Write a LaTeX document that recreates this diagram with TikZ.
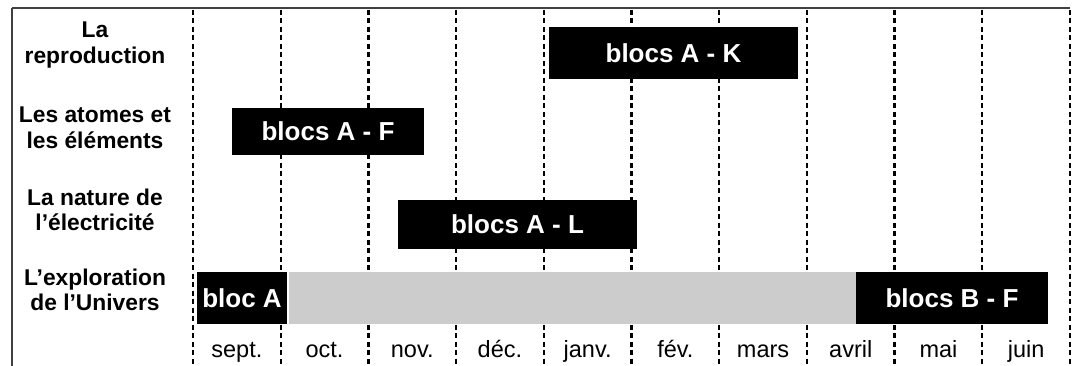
\documentclass[tikz,border=0pt]{standalone}
\usepackage{fontspec}
\setmainfont{Liberation Sans}
\begin{document}
\begin{tikzpicture}[x=1pt,y=-1pt,
  frame/.style={draw=black!75, line width=2pt},
  divider/.style={draw=black, line width=2.3pt, dash pattern=on 5pt off 3.5pt},
  lbl/.style={align=center, inner sep=0pt, font=\bfseries\fontsize{22.8}{25.5}\selectfont},
  blk/.style={fill=black, text=white, inner sep=0pt, font=\bfseries\fontsize{26}{28}\selectfont},
  gry/.style={fill=black!20, inner sep=0pt},
  mon/.style={inner sep=0pt, font=\fontsize{23.5}{25}\selectfont}]
\useasboundingbox (0,0) rectangle (1078,366);
% frame
\draw[frame] (12,8.5) -- (1070,8.5);
\draw[frame] (12,8.5) -- (12,366);
% month dividers
\foreach \k in {0,...,10} {
  \draw[divider] ({193+87.7*\k},10) -- ({193+87.7*\k},366);
}
% row labels
\node[lbl] (l1) at (95,45) {La\\reproduction};
\node[lbl] (l2) at (95,128) {Les atomes et\\les éléments};
\node[lbl] (l3) at (95,210) {La nature de\\l’électricité};
\node[lbl] (l4) at (95,290) {L’exploration\\de l’Univers};
% blocks
\node[blk, minimum width=249pt, minimum height=52pt] (bk) at (673.5,53) {blocs A - K};
\node[blk, minimum width=192pt, minimum height=47pt] (bf) at (328,131.5) {blocs A - F};
\node[blk, minimum width=239pt, minimum height=49pt] (bl) at (517.5,224.5) {blocs A - L};
\node[gry, minimum width=567pt, minimum height=52pt] (gr) at (572.5,298) {};
\node[blk, minimum width=90pt, minimum height=52pt] (ba) at (242,298) {bloc A};
\node[blk, minimum width=192pt, minimum height=52pt] (bb) at (952,298) {blocs B - F};
% months
\foreach \m [count=\i from 0] in {sept.,oct.,nov.,déc.,janv.,fév.,mars,avril,mai,juin} {
  \node[mon, anchor=base] (m\i) at ({193+87.7*(\i+0.5)},357) {\m};
}
\end{tikzpicture}
\end{document}
